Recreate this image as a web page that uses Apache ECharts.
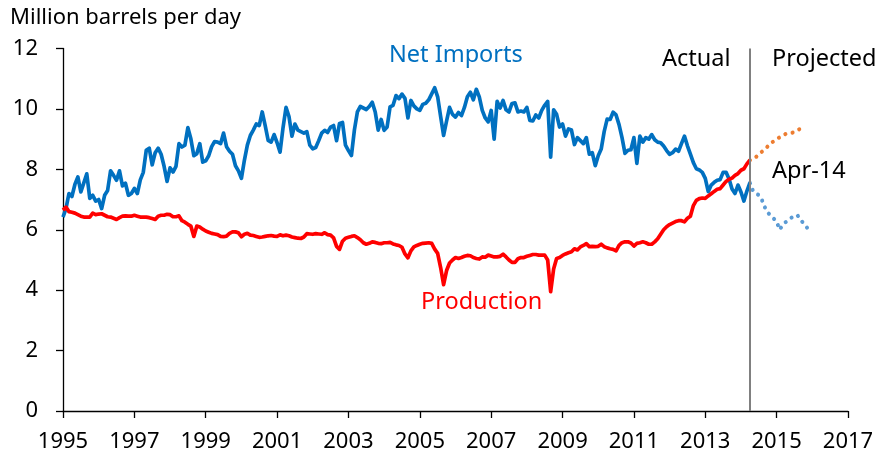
<!DOCTYPE html>
<html>
<head>
<meta charset="utf-8">
<script src="https://cdn.jsdelivr.net/npm/echarts@6/dist/echarts.min.js"></script>
<style>
html,body{margin:0;padding:0;background:#fff;}
#chart{width:878px;height:460px;}
</style>
</head>
<body>
<div id="chart"></div>
<script>
// ---- Data (million barrels per day), monthly from Jan 1995 ----
const startYear = 1995;
const netImports = [
6.42,6.7,7.2,7.1,7.5,7.75,7.25,7.55,7.85,7.04,7.14,6.95,
7.0,6.7,7.14,7.3,7.95,7.8,7.64,7.95,7.45,7.54,7.14,7.2,
7.37,7.2,7.65,7.9,8.63,8.7,8.15,8.55,8.7,8.5,8.1,7.6,
8.05,7.91,8.1,8.85,8.74,8.8,9.38,9.01,8.45,8.52,8.85,8.24,
8.28,8.45,8.75,8.92,8.9,8.85,9.2,8.75,8.6,8.5,8.12,7.95,
7.7,8.3,8.8,9.12,9.3,9.5,9.45,9.9,9.45,8.96,8.9,9.15,
8.88,8.57,9.38,10.05,9.75,9.1,9.5,9.3,9.25,9.2,9.25,8.8,
8.68,8.72,8.95,9.2,9.29,9.22,9.4,9.45,8.95,9.52,9.55,8.8,
8.62,8.46,9.3,9.9,10.08,10.03,9.98,10.08,10.22,9.9,9.3,9.65,
9.29,9.4,10.07,10.12,10.44,10.34,10.49,10.35,9.7,10.28,10.1,10.0,
9.95,10.15,10.19,10.3,10.5,10.7,10.4,9.75,9.12,9.6,10.05,9.82,
9.73,9.88,9.78,10.05,10.4,10.55,10.3,10.65,10.4,9.95,9.7,9.57,
9.95,9.0,10.25,10.03,10.28,9.97,9.9,10.18,10.2,9.9,9.93,9.9,
10.05,9.62,9.6,9.8,9.7,9.95,10.12,10.25,8.4,9.97,9.82,9.4,
9.5,9.1,9.34,9.3,8.82,9.05,8.95,8.85,9.05,8.5,8.55,8.12,
8.45,8.67,9.25,9.66,9.65,9.89,9.8,9.48,9.05,8.53,8.63,8.65,
9.05,8.2,9.1,8.9,9.05,9.0,9.15,8.98,8.9,8.88,8.77,8.62,
8.5,8.55,8.67,8.6,8.85,9.1,8.78,8.5,8.22,8.02,7.98,7.9,
7.7,7.26,7.48,7.57,7.64,7.66,7.9,7.9,7.68,7.35,7.2,7.48,
7.25,6.95,7.28,7.55
];
const production = [
6.65,6.75,6.6,6.58,6.55,6.5,6.45,6.42,6.42,6.42,6.55,6.5,
6.52,6.53,6.48,6.43,6.42,6.38,6.34,6.4,6.45,6.46,6.45,6.45,
6.48,6.45,6.42,6.42,6.42,6.4,6.37,6.34,6.45,6.48,6.48,6.51,
6.5,6.43,6.43,6.46,6.3,6.25,6.18,6.12,5.78,6.12,6.09,6.02,
5.96,5.92,5.88,5.86,5.84,5.78,5.77,5.79,5.88,5.93,5.93,5.9,
5.77,5.85,5.88,5.82,5.81,5.78,5.75,5.76,5.78,5.8,5.81,5.79,
5.78,5.83,5.8,5.82,5.8,5.76,5.74,5.72,5.71,5.76,5.87,5.86,
5.85,5.87,5.86,5.85,5.9,5.84,5.82,5.73,5.45,5.35,5.62,5.72,
5.75,5.78,5.8,5.74,5.67,5.57,5.52,5.55,5.6,5.58,5.55,5.54,
5.57,5.57,5.58,5.53,5.5,5.48,5.42,5.2,5.07,5.3,5.43,5.48,
5.52,5.55,5.56,5.57,5.55,5.36,5.22,4.75,4.18,4.65,4.9,5.0,
5.08,5.05,5.08,5.12,5.15,5.14,5.08,5.05,5.03,5.1,5.09,5.16,
5.13,5.1,5.1,5.12,5.19,5.1,5.0,4.92,4.92,5.04,5.08,5.08,
5.12,5.15,5.18,5.18,5.16,5.16,5.16,5.0,3.95,4.7,5.05,5.08,
5.15,5.2,5.24,5.27,5.37,5.33,5.43,5.48,5.54,5.44,5.45,5.44,
5.45,5.52,5.44,5.4,5.37,5.35,5.3,5.48,5.57,5.6,5.6,5.56,
5.46,5.55,5.57,5.6,5.57,5.52,5.52,5.6,5.7,5.85,6.0,6.1,
6.17,6.22,6.27,6.3,6.3,6.26,6.38,6.45,6.8,6.97,7.03,7.05,
7.04,7.12,7.19,7.27,7.34,7.36,7.48,7.6,7.67,7.71,7.8,7.86,
7.97,8.02,8.18,8.3
];
// Projections start at the last actual month (Apr 2014)
const projStartIndex = 231;
const projNetImports = [7.55,7.3,7.2,7.15,7.0,6.75,6.57,6.47,6.37,6.27,6.0,6.15,6.25,6.32,6.4,6.47,6.48,6.33,6.22,6.1,5.96];
const projProduction = [8.3,8.35,8.4,8.5,8.58,8.66,8.76,8.86,8.93,9.0,9.06,9.12,9.17,9.19,9.2,9.24,9.3,9.34,9.36];
const dividerDate = 2014.25; // Apr-14
const xTicks = {min: 1995, max: 2017, step: 2};
const yTicks = {min: 0, max: 12, step: 2};

function toPairs(arr, offset) {
  return arr.map((v, i) => [startYear + (offset + i) / 12, v]);
}

const FONT = 'Noto Sans';
const ANN = '23.5px "Noto Sans"';
const chart = echarts.init(document.getElementById('chart'), null, {renderer: 'canvas'});
chart.setOption({
  animation: false,
  backgroundColor: '#ffffff',
  textStyle: {fontFamily: FONT},
  grid: {left: 63, right: 30, top: 48.5, bottom: 49, containLabel: false},
  xAxis: {
    type: 'value', min: xTicks.min, max: xTicks.max, interval: xTicks.step,
    axisLine: {show: true, lineStyle: {color: '#000', width: 1.3}},
    axisTick: {show: true, length: 7, lineStyle: {color: '#000', width: 1.3}},
    axisLabel: {color: '#000', fontSize: 22, fontFamily: FONT, margin: 20, formatter: v => String(v)},
    splitLine: {show: false}
  },
  yAxis: {
    type: 'value', min: yTicks.min, max: yTicks.max, interval: yTicks.step,
    axisLine: {show: true, lineStyle: {color: '#000', width: 1.3}},
    axisTick: {show: true, length: 7, lineStyle: {color: '#000', width: 1.3}},
    axisLabel: {color: '#000', fontSize: 22, fontFamily: FONT, margin: 25},
    splitLine: {show: false}
  },
  series: [
    {
      name: 'Net Imports', type: 'line', data: toPairs(netImports, 0),
      symbol: 'none', lineStyle: {color: '#0070C0', width: 3.7, join: 'round'}, z: 3
    },
    {
      name: 'Production', type: 'line', data: toPairs(production, 0),
      symbol: 'none', lineStyle: {color: '#FF0000', width: 3.7, join: 'round'}, z: 4,
      markLine: {
        silent: true, symbol: 'none', label: {show: false},
        lineStyle: {color: '#808080', width: 2, type: 'solid'},
        data: [{xAxis: dividerDate}]
      }
    },
    {
      name: 'Net Imports projected', type: 'line', data: toPairs(projNetImports, projStartIndex),
      symbol: 'none', lineStyle: {color: '#5B9BD5', width: 4, type: [0.1, 7.3], cap: 'round'}, z: 2
    },
    {
      name: 'Production projected', type: 'line', data: toPairs(projProduction, projStartIndex),
      symbol: 'none', lineStyle: {color: '#ED7D31', width: 4, type: [0.1, 7.3], cap: 'round'}, z: 2
    }
  ],
  graphic: [
    {type: 'text', left: 10, top: 7, style: {text: 'Million barrels per day', font: '22px "Noto Sans"', fill: '#000'}},
    {type: 'text', left: 389, top: 43, style: {text: 'Net Imports', font: ANN, fill: '#0070C0'}},
    {type: 'text', left: 421, top: 290, style: {text: 'Production', font: ANN, fill: '#FF0000'}},
    {type: 'text', left: 662, top: 47, style: {text: 'Actual', font: ANN, fill: '#000'}},
    {type: 'text', left: 772, top: 47, style: {text: 'Projected', font: ANN, fill: '#000'}},
    {type: 'text', left: 772, top: 159, style: {text: 'Apr-14', font: ANN, fill: '#000'}}
  ]
});
</script>
</body>
</html>
